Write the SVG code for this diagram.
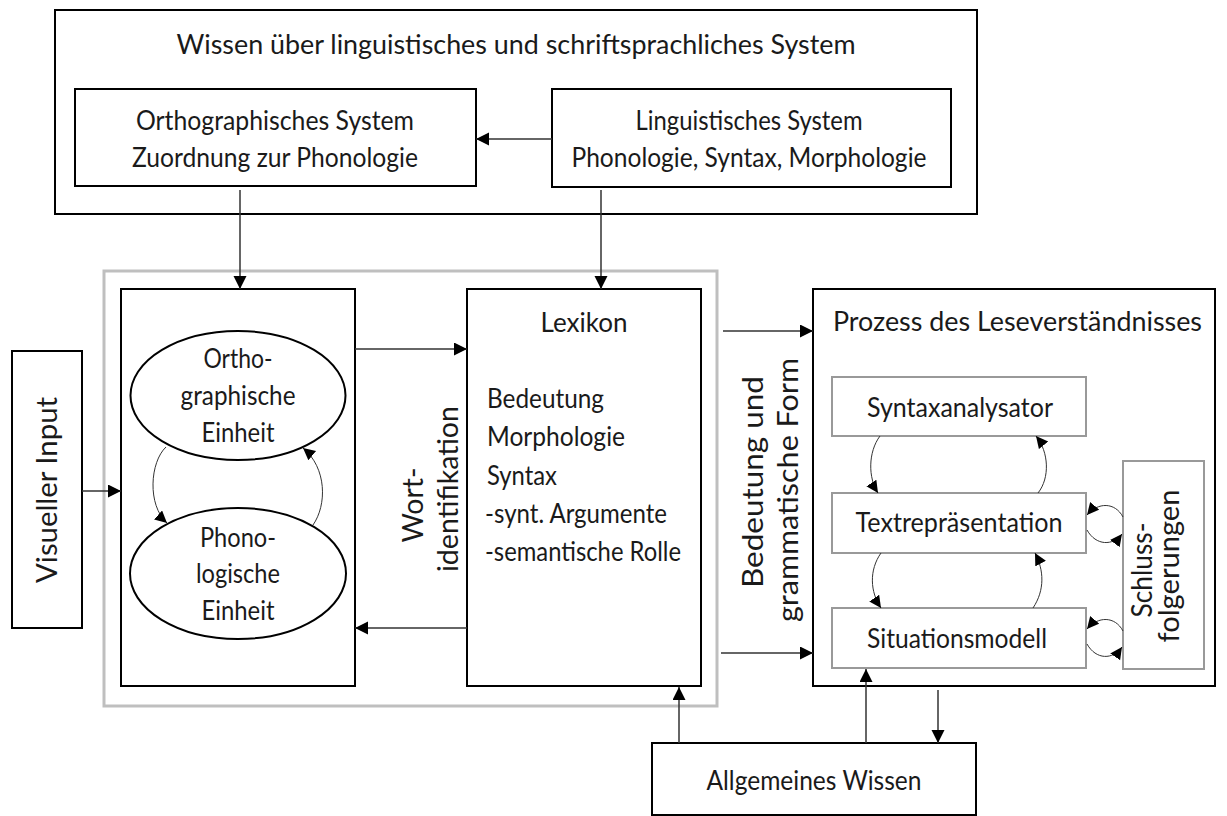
<svg xmlns="http://www.w3.org/2000/svg" width="1227" height="816" viewBox="0 0 1227 816">
<defs>
<style>
.box{fill:none;stroke:#000;stroke-width:2}
.gbox{fill:none;stroke:#999;stroke-width:2}
.outer{fill:none;stroke:#bfbfbf;stroke-width:3}
.t{font-family:Lato,"Open Sans",sans-serif;font-size:27px;fill:#1a1a1a}
.tv{font-family:Lato,"Open Sans",sans-serif;font-size:28px;fill:#1a1a1a}
.m{text-anchor:middle}
.ln{fill:none;stroke:#333;stroke-width:1.5}
.cv{fill:none;stroke:#333;stroke-width:1}
</style>
<marker id="ah" markerUnits="userSpaceOnUse" markerWidth="14" markerHeight="14" refX="13" refY="6.5" orient="auto">
<path d="M0,0 L13,6.5 L0,13 z" fill="#000"/>
</marker>
<marker id="ahs" markerUnits="userSpaceOnUse" markerWidth="13" markerHeight="13" refX="12" refY="6" orient="auto">
<path d="M0,0 L12,6 L0,12 z" fill="#000"/>
</marker>
</defs>
<rect width="1227" height="816" fill="#fff"/>

<g id="wissen-system">
<rect class="box" x="55" y="10" width="922" height="204"/>
<text class="t m" x="516" y="54" font-size="28" textLength="679" lengthAdjust="spacingAndGlyphs">Wissen über linguistisches und schriftsprachliches System</text>
</g>
<g id="orthographisches-system">
<rect class="box" x="75" y="89" width="401" height="97"/>
<text class="t m" x="275" y="130" textLength="278" lengthAdjust="spacingAndGlyphs">Orthographisches System</text>
<text class="t m" x="275" y="167" textLength="286" lengthAdjust="spacingAndGlyphs">Zuordnung zur Phonologie</text>
</g>
<g id="linguistisches-system">
<rect class="box" x="552" y="89" width="399" height="98"/>
<text class="t m" x="749" y="130" textLength="227" lengthAdjust="spacingAndGlyphs">Linguistisches System</text>
<text class="t m" x="749" y="167" textLength="355" lengthAdjust="spacingAndGlyphs">Phonologie, Syntax, Morphologie</text>
</g>

<g id="worterkennung">
<rect class="outer" x="104" y="271" width="613" height="435"/>
</g>
<g id="einheiten">
<rect class="box" x="121" y="289" width="234" height="397"/>
</g>
<g id="ortho-einheit">
<ellipse cx="238" cy="395.5" rx="107.5" ry="64.5" fill="#fff" stroke="#000" stroke-width="2"/>
<text class="t m" x="238" y="368" textLength="69" lengthAdjust="spacingAndGlyphs">Ortho-</text>
<text class="t m" x="238" y="405" textLength="115" lengthAdjust="spacingAndGlyphs">graphische</text>
<text class="t m" x="238" y="442" textLength="73" lengthAdjust="spacingAndGlyphs">Einheit</text>
</g>
<g id="phono-einheit">
<ellipse cx="238" cy="573.5" rx="108" ry="65.5" fill="#fff" stroke="#000" stroke-width="2"/>
<text class="t m" x="238" y="547" textLength="76" lengthAdjust="spacingAndGlyphs">Phono-</text>
<text class="t m" x="238" y="583" textLength="84" lengthAdjust="spacingAndGlyphs">logische</text>
<text class="t m" x="238" y="620" textLength="73" lengthAdjust="spacingAndGlyphs">Einheit</text>
</g>
<g id="lexikon">
<rect class="box" x="467" y="289" width="234" height="397"/>
<text class="t m" x="584" y="332" textLength="87" lengthAdjust="spacingAndGlyphs">Lexikon</text>
<text class="t" x="487" y="408" textLength="117" lengthAdjust="spacingAndGlyphs">Bedeutung</text>
<text class="t" x="487" y="446" textLength="138" lengthAdjust="spacingAndGlyphs">Morphologie</text>
<text class="t" x="487" y="485" textLength="70" lengthAdjust="spacingAndGlyphs">Syntax</text>
<text class="t" x="485" y="523" textLength="182" lengthAdjust="spacingAndGlyphs">-synt. Argumente</text>
<text class="t" x="485" y="561" textLength="196" lengthAdjust="spacingAndGlyphs">-semantische Rolle</text>
</g>
<g id="visueller-input">
<rect class="box" x="12" y="351" width="70" height="277"/>
<text class="tv m" transform="translate(57,490) rotate(-90)" textLength="186" lengthAdjust="spacingAndGlyphs">Visueller Input</text>
</g>
<g id="label-wortidentifikation">
<text class="tv m" transform="translate(423,505) rotate(-90)" textLength="75" lengthAdjust="spacingAndGlyphs">Wort-</text>
<text class="tv m" transform="translate(458,489) rotate(-90)" textLength="166" lengthAdjust="spacingAndGlyphs">identifikation</text>
</g>
<g id="label-bedeutung">
<text class="tv m" transform="translate(763,482) rotate(-90)" textLength="212" lengthAdjust="spacingAndGlyphs">Bedeutung und</text>
<text class="tv m" transform="translate(798,490) rotate(-90)" textLength="264" lengthAdjust="spacingAndGlyphs">grammatische Form</text>
</g>

<g id="leseverstaendnis">
<rect class="box" x="813" y="289" width="402" height="397"/>
<text class="t" x="833" y="331" font-size="28" textLength="369" lengthAdjust="spacingAndGlyphs">Prozess des Leseverständnisses</text>
</g>
<g id="syntaxanalysator">
<rect class="gbox" x="832" y="377" width="254" height="59" fill="#fff"/>
<text class="t m" x="960" y="417" textLength="186" lengthAdjust="spacingAndGlyphs">Syntaxanalysator</text>
</g>
<g id="textrepraesentation">
<rect class="gbox" x="832" y="493" width="254" height="60" fill="#fff"/>
<text class="t m" x="959" y="532" textLength="207" lengthAdjust="spacingAndGlyphs">Textrepräsentation</text>
</g>
<g id="situationsmodell">
<rect class="gbox" x="832" y="608" width="254" height="60" fill="#fff"/>
<text class="t m" x="957" y="648" textLength="180" lengthAdjust="spacingAndGlyphs">Situationsmodell</text>
</g>
<g id="schlussfolgerungen">
<rect class="gbox" x="1123" y="461" width="81" height="208" fill="#fff"/>
<text class="tv m" transform="translate(1152,570) rotate(-90)" textLength="95" lengthAdjust="spacingAndGlyphs">Schluss-</text>
<text class="tv m" transform="translate(1179,566) rotate(-90)" textLength="153" lengthAdjust="spacingAndGlyphs">folgerungen</text>
</g>
<g id="allgemeines-wissen">
<rect class="box" x="652" y="743" width="324" height="72"/>
<text class="t m" x="814" y="790" textLength="215" lengthAdjust="spacingAndGlyphs">Allgemeines Wissen</text>
</g>

<g id="connectors">
<path class="ln" d="M552,139 L476,139" marker-end="url(#ah)"/>
<path class="ln" d="M240,190 L240,289" marker-end="url(#ah)"/>
<path class="ln" d="M601,190 L601,289" marker-end="url(#ah)"/>
<path class="ln" d="M82,491 L121,491" marker-end="url(#ah)"/>
<path class="ln" d="M355,349 L467,349" marker-end="url(#ah)"/>
<path class="ln" d="M467,628 L355,628" marker-end="url(#ah)"/>
<path class="ln" d="M723,331 L813,331" marker-end="url(#ah)"/>
<path class="ln" d="M721,653 L813,653" marker-end="url(#ah)"/>
<path class="ln" d="M679,743 L679,687" marker-end="url(#ah)"/>
<path class="ln" d="M866,743 L866,669" marker-end="url(#ah)"/>
<path class="ln" d="M938,690 L938,743" marker-end="url(#ah)"/>
<path class="cv" d="M166,447 C150,462 147,505 167,523" marker-end="url(#ahs)"/>
<path class="cv" d="M313,525 C327,505 327,468 303,448" marker-end="url(#ahs)"/>
<path class="cv" d="M880,436 C868,452 868,478 878,493" marker-end="url(#ahs)"/>
<path class="cv" d="M1038,493 C1050,478 1049,452 1036,436" marker-end="url(#ahs)"/>
<path class="cv" d="M881,553 C869,570 870,592 881,608" marker-end="url(#ahs)"/>
<path class="cv" d="M1033,608 C1045,590 1044,570 1035,553" marker-end="url(#ahs)"/>
<path class="cv" d="M1123,517 C1115,502 1098,502 1087,515" marker-end="url(#ahs)"/>
<path class="cv" d="M1087,530 C1096,546 1113,546 1122,534" marker-end="url(#ahs)"/>
<path class="cv" d="M1123,631 C1115,616 1098,616 1087,629" marker-end="url(#ahs)"/>
<path class="cv" d="M1087,644 C1096,660 1113,660 1122,647" marker-end="url(#ahs)"/>
</g>
</svg>
